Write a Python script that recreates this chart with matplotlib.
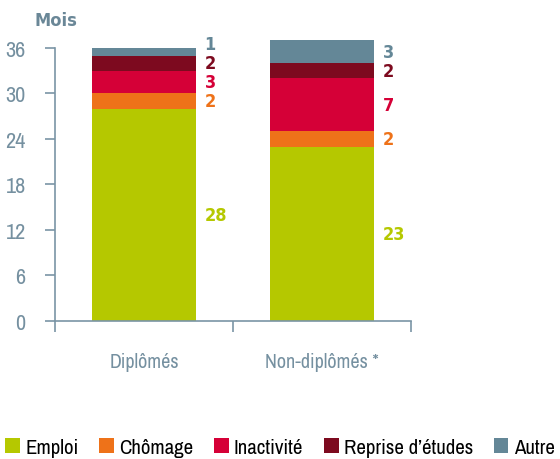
import matplotlib
matplotlib.use('Agg')
import matplotlib.pyplot as plt
from matplotlib.patches import Patch
import numpy as np

plt.rcParams['font.family'] = ['Archivo Narrow', 'DejaVu Sans']
bold_font = dict(family=['DejaVu Sans'], stretch='condensed', weight='bold')

groups = ['Diplômés', 'Non-diplômés *']
series = ['Emploi', 'Chômage', 'Inactivité', 'Reprise d\u2019études', 'Autre']
values = {
    'Emploi': [28, 23],
    'Chômage': [2, 2],
    'Inactivité': [3, 7],
    'Reprise d\u2019études': [2, 2],
    'Autre': [1, 3],
}
colors = ['#b5c800', '#ee7219', '#d50037', '#7d0a1f', '#648797']
yticks = [0, 6, 12, 18, 24, 30, 36]

axis_col = '#7a95a5'
text_col = '#7590a0'

fig = plt.figure(figsize=(5.6, 4.6), dpi=100)
ax = fig.add_axes([0.098, 0.30, 0.636, 0.5935])

x = np.arange(len(groups))
bottom = np.zeros(len(groups))
label_y = [[] for _ in groups]
for name, col in zip(series, colors):
    v = np.array(values[name], dtype=float)
    ax.bar(x, v, bottom=bottom, width=0.58, color=col, clip_on=False, zorder=2)
    for i in range(len(groups)):
        yc = bottom[i] + v[i] / 2
        # keep small labels from overlapping
        if label_y[i] and yc - label_y[i][-1] < 2.5:
            yc = label_y[i][-1] + 2.5
        label_y[i].append(yc)
        ax.text(x[i] + 0.34, yc, str(int(v[i])), color=col, fontsize=13,
                ha='left', va='center', **bold_font)
    bottom += v

ax.set_xlim(-0.5, 1.5)
ax.set_ylim(0, 36)
ax.set_yticks(yticks)
ax.set_xticks([-0.5, 0.5, 1.5])
ax.set_xticklabels([])
ax.set_xticks(x, minor=True)
ax.set_xticklabels(groups, minor=True)
ax.tick_params(axis='x', which='minor', length=0, pad=22, labelsize=14.5, labelcolor=text_col)
ax.tick_params(axis='x', which='major', length=8, color=axis_col, width=1.2)
ax.tick_params(axis='y', length=7, color=axis_col, width=1.2, pad=14, labelsize=16,
               labelcolor=text_col)

for s in ['top', 'right']:
    ax.spines[s].set_visible(False)
for s in ['left', 'bottom']:
    ax.spines[s].set_color(axis_col)
    ax.spines[s].set_linewidth(1.2)

fig.text(0.062, 0.955, 'Mois', fontsize=13, color='#6a8797',
         ha='left', va='center', **bold_font)

handles = [Patch(facecolor=c, edgecolor='none') for c in colors]
fig.legend(handles, series, loc='center', bbox_to_anchor=(0.5, 0.025), ncol=5,
           frameon=False, fontsize=15, handlelength=0.7, handleheight=0.7,
           handletextpad=0.25, columnspacing=1.0, borderaxespad=0)

fig.savefig('out.png', dpi=100)
